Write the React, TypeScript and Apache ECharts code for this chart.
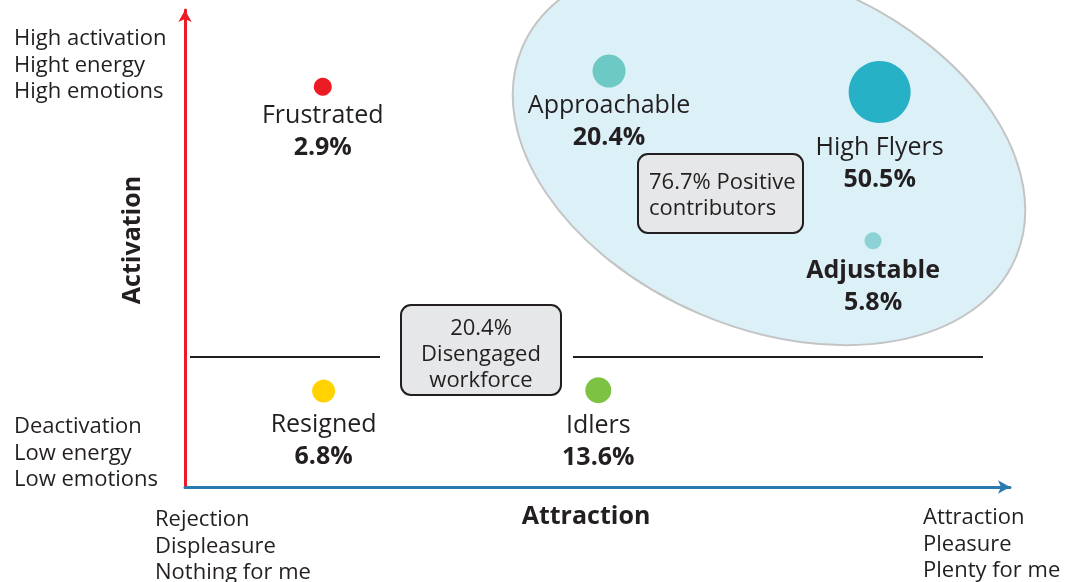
import React, { useEffect, useRef } from "react";
import * as echarts from "echarts";

// ---- data ----
const segments = ["Frustrated", "Approachable", "High Flyers", "Adjustable", "Resigned", "Idlers"];
const attraction = [16.7, 51.4, 84.2, 83.4, 16.8, 50.1];
const activation = [83.9, 87.2, 82.8, 51.6, 20.1, 20.3];
const shares = [2.9, 20.4, 50.5, 5.8, 6.8, 13.6];
const positiveGroup = ["Approachable", "High Flyers", "Adjustable"];
const disengagedGroup = ["Resigned", "Idlers"];
const yAxisNotesTop = ["High activation", "Hight energy", "High emotions"];
const yAxisNotesBottom = ["Deactivation", "Low energy", "Low emotions"];
const xAxisNotesLeft = ["Rejection", "Displeasure", "Nothing for me"];
const xAxisNotesRight = ["Attraction", "Pleasure", "Plenty for me"];

// ---- styles ----
const FONT = "'Open Sans', 'Noto Sans', sans-serif";
const TEXT = "#231f20";
const COLORS: Record<string, string> = {
  Frustrated: "#ed1c24",
  Approachable: "#6cc9c3",
  "High Flyers": "#26b1c7",
  Adjustable: "#8dd3d6",
  Resigned: "#ffd200",
  Idlers: "#7dc242",
};
const SIZES: Record<string, number> = {
  Frustrated: 18,
  Approachable: 33,
  "High Flyers": 62,
  Adjustable: 17,
  Resigned: 23,
  Idlers: 26,
};
const LABEL_DIST: Record<string, number> = {
  Frustrated: 1,
  Approachable: -1,
  "High Flyers": 6,
  Adjustable: 3,
  Resigned: 3,
  Idlers: 4,
};

const sumOf = (names: string[]) =>
  names.reduce((s, n) => s + shares[segments.indexOf(n)], 0);

export default function App() {
  const ref = useRef<HTMLDivElement>(null);
  useEffect(() => {
    if (!ref.current) return;
    const chart = echarts.init(ref.current, null, { renderer: "svg" });

    const noteText = (lines: string[], x: number, y: number) =>
      lines.map((line, i) => ({
        type: "text",
        x,
        y: y + i * 26.5,
        style: {
          text: line,
          font: `22px ${FONT}`,
          fill: TEXT,
          align: "left",
          verticalAlign: "middle",
        },
      }));

    const positive = sumOf(positiveGroup).toFixed(1);
    const disengaged = sumOf(disengagedGroup).toFixed(1);

    const option: any = {
      animation: false,
      grid: { left: 185, right: 76, top: 10, bottom: 95 },
      xAxis: {
        type: "value",
        min: 0,
        max: 100,
        axisLine: {
          show: true,
          symbol: ["none", "arrow"],
          symbolSize: [10, 12],
          lineStyle: { color: "#2a7ab0", width: 3 },
        },
        axisTick: { show: false },
        axisLabel: { show: false },
        splitLine: { show: false },
      },
      yAxis: {
        type: "value",
        min: 0,
        max: 100,
        axisLine: {
          show: true,
          symbol: ["none", "arrow"],
          symbolSize: [10, 12],
          lineStyle: { color: "#ed1c24", width: 3 },
        },
        axisTick: { show: false },
        axisLabel: { show: false },
        splitLine: { show: false },
      },
      graphic: [
        {
          type: "ellipse",
          z: -10,
          x: 769,
          y: 152.5,
          rotation: (-23 * Math.PI) / 180,
          shape: { cx: 0, cy: 0, rx: 268, ry: 175.5 },
          style: { fill: "#dcf0f8", stroke: "#c4c4c4", lineWidth: 2 },
        },
        {
          type: "line",
          shape: { x1: 190, y1: 357, x2: 380, y2: 357 },
          style: { stroke: TEXT, lineWidth: 2 },
        },
        {
          type: "line",
          shape: { x1: 573, y1: 357, x2: 983, y2: 357 },
          style: { stroke: TEXT, lineWidth: 2 },
        },
        {
          type: "rect",
          shape: { x: 638, y: 154, width: 165, height: 79, r: 10 },
          style: { fill: "#e6e7e8", stroke: TEXT, lineWidth: 2 },
        },
        {
          type: "text",
          x: 649,
          y: 180,
          style: {
            text: `${positive}% Positive`,
            font: `22px ${FONT}`,
            fill: TEXT,
            align: "left",
            verticalAlign: "middle",
          },
        },
        {
          type: "text",
          x: 649,
          y: 206,
          style: {
            text: "contributors",
            font: `22px ${FONT}`,
            fill: TEXT,
            align: "left",
            verticalAlign: "middle",
          },
        },
        {
          type: "rect",
          shape: { x: 401, y: 305, width: 160, height: 90, r: 10 },
          style: { fill: "#e6e7e8", stroke: TEXT, lineWidth: 2 },
        },
        ...[`${disengaged}%`, "Disengaged", "workforce"].map((t, i) => ({
          type: "text",
          x: 481,
          y: 326 + i * 26,
          style: {
            text: t,
            font: `22px ${FONT}`,
            fill: TEXT,
            align: "center",
            verticalAlign: "middle",
          },
        })),
        ...noteText(yAxisNotesTop, 14, 36),
        ...noteText(yAxisNotesBottom, 14, 424),
        ...noteText(xAxisNotesLeft, 155, 517),
        ...noteText(xAxisNotesRight, 923, 515),
        {
          type: "text",
          x: 586,
          y: 514,
          style: {
            text: "Attraction",
            font: `bold 25px ${FONT}`,
            fill: TEXT,
            align: "center",
            verticalAlign: "middle",
          },
        },
        {
          type: "text",
          x: 130,
          y: 240,
          rotation: Math.PI / 2,
          style: {
            text: "Activation",
            font: `bold 25px ${FONT}`,
            fill: TEXT,
            align: "center",
            verticalAlign: "middle",
          },
        },
      ],
      series: [
        {
          type: "scatter",
          data: segments.map((name, i) => ({
            name,
            value: [attraction[i], activation[i], shares[i]],
            itemStyle: { color: COLORS[name], opacity: 1 },
            label: { distance: LABEL_DIST[name] },
          })),
          symbolSize: (_v: any, p: any) => SIZES[p.name],
          itemStyle: { opacity: 1 },
          label: {
            show: true,
            position: "bottom",
            distance: 4,
            align: "center",
            color: TEXT,
            opacity: 1,
            formatter: (p: any) =>
              `{${p.name === "Adjustable" ? "nb" : "n"}|${p.name}}\n{v|${p.value[2].toFixed(1)}%}`,
            rich: {
              n: { fontFamily: FONT, fontSize: 25, color: TEXT, lineHeight: 32, align: "center" },
              nb: { fontFamily: FONT, fontSize: 25, fontWeight: "bold", color: TEXT, lineHeight: 32, align: "center" },
              v: { fontFamily: FONT, fontSize: 25, fontWeight: "bold", color: TEXT, lineHeight: 32, align: "center" },
            },
          },
          emphasis: { disabled: true },
        },
      ],
    };
    chart.setOption(option);
    return () => chart.dispose();
  }, []);
  return (
    <div
      ref={ref}
      style={{ position: "fixed", left: 0, top: 0, width: 1086, height: 582 }}
    />
  );
}
